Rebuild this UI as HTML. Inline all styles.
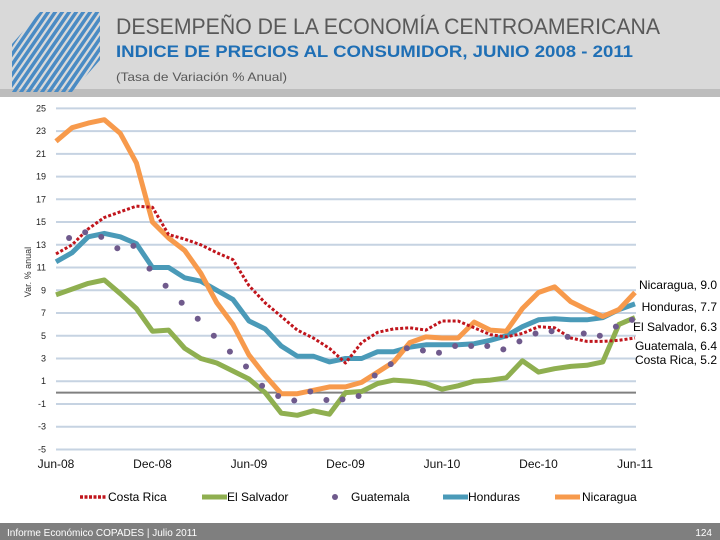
<!DOCTYPE html>
<html><head><meta charset="utf-8"><style>
html,body{margin:0;padding:0;background:#fff;}
svg{display:block;font-family:"Liberation Sans",Arial,sans-serif;}
</style></head><body>
<svg id="c" width="720" height="540" viewBox="0 0 720 540">
<rect x="0" y="0" width="720" height="89" fill="#d9d9d9"/>
<rect x="0" y="89" width="720" height="8" fill="#bdbdbd"/>
<g id="logo"></g>
<text x="116" y="34" font-size="22" fill="#595959" textLength="544" lengthAdjust="spacingAndGlyphs">DESEMPEÑO DE LA ECONOMÍA CENTROAMERICANA</text>
<text x="116" y="57" font-size="17" font-weight="bold" fill="#1f6fb5" textLength="517" lengthAdjust="spacingAndGlyphs">INDICE DE PRECIOS AL CONSUMIDOR, JUNIO 2008 - 2011</text>
<text x="116" y="81" font-size="12" fill="#595959" textLength="171" lengthAdjust="spacingAndGlyphs">(Tasa de Variación % Anual)</text>
<g id="grid"></g>
<g id="yt"></g>
<g id="xt"></g>
<text transform="translate(31,272) rotate(-90)" font-size="9" fill="#333" text-anchor="middle">Var. % anual</text>
<g id="series"></g>
<g id="labels"></g>
<g id="legend"></g>
<rect x="0" y="523" width="720" height="17" fill="#7f7f7f"/>
<text x="7" y="536" font-size="10" fill="#fff">Informe Económico COPADES  |  Julio 2011</text>
<text x="712" y="536" font-size="10" fill="#fff" text-anchor="end">124</text>
</svg>
<script>
const xLabels=["Jun-08","Dec-08","Jun-09","Dec-09","Jun-10","Dec-10","Jun-11"];
const yTicks=[25,23,21,19,17,15,13,11,9,7,5,3,1,-1,-3,-5];
const costaRica=[12.2,13.0,14.4,15.4,15.9,16.4,16.3,13.9,13.5,13.0,12.3,11.7,9.4,7.9,6.7,5.5,4.8,3.9,2.6,4.4,5.3,5.6,5.7,5.5,6.3,6.3,5.7,5.1,4.9,5.2,5.8,5.7,4.8,4.5,4.5,4.6,4.8];
const elSalvador=[8.6,9.1,9.6,9.9,8.7,7.4,5.4,5.5,3.9,3.0,2.6,1.9,1.2,0.0,-1.8,-2.0,-1.6,-1.9,0.0,0.1,0.8,1.1,1.0,0.8,0.3,0.6,1.0,1.1,1.3,2.8,1.8,2.1,2.3,2.4,2.7,6.0,6.6];
const guatemala=[null,13.6,14.1,13.7,12.7,12.9,10.9,9.4,7.9,6.5,5.0,3.6,2.3,0.6,-0.3,-0.7,0.1,-0.65,-0.6,-0.3,1.5,2.5,3.9,3.7,3.5,4.1,4.1,4.1,3.8,4.5,5.2,5.4,4.9,5.2,5.0,5.8,6.4];
const honduras=[11.5,12.3,13.7,14.0,13.7,13.1,11.0,11.0,10.1,9.8,9.0,8.2,6.3,5.6,4.1,3.2,3.2,2.7,3.0,3.0,3.6,3.6,4.0,4.2,4.2,4.2,4.3,4.6,5.0,5.8,6.4,6.5,6.4,6.4,6.6,7.3,7.8];
const nicaragua=[22.1,23.3,23.7,24.0,22.8,20.2,15.0,13.6,12.5,10.5,7.9,6.0,3.3,1.5,-0.1,-0.1,0.2,0.5,0.5,0.9,1.8,2.7,4.4,4.9,4.8,4.8,6.2,5.5,5.4,7.4,8.8,9.3,8.0,7.3,6.7,7.3,8.8];
const endLabels=["Nicaragua, 9.0","Honduras, 7.7","El Salvador, 6.3","Guatemala, 6.4","Costa Rica, 5.2"];
const legendNames=["Costa Rica","El Salvador","Guatemala","Honduras","Nicaragua"];

const NS="http://www.w3.org/2000/svg";
const X0=56,X1=635,Y0=392.6,PX=11.37;
function xs(i){return X0+(X1-X0)*i/36;}
function ys(v){return Y0-v*PX;}
function mk(t,a,p){const e=document.createElementNS(NS,t);for(const k in a)e.setAttribute(k,a[k]);p.appendChild(e);return e;}

const logo=document.getElementById('logo');
const clip=mk('clipPath',{id:'lc'},logo);
mk('polygon',{points:'40,12 100,12 100,60 72,92 12,92 12,44'},clip);
const lg=mk('g',{'clip-path':'url(#lc)'},logo);
for(let k=-100;k<120;k+=7){mk('line',{x1:k,y1:95,x2:k+60,y2:8,stroke:'#4a8bc4','stroke-width':3.5},lg);}

const grid=document.getElementById('grid');
const yt=document.getElementById('yt');
yTicks.forEach(v=>{
  const l=mk('line',{x1:X0,x2:636,y1:ys(v),y2:ys(v),stroke:'#c6d3e2','stroke-width':2},grid);
  
  
  const t=mk('text',{x:46,y:ys(v)+3,'font-size':9,'text-anchor':'end',fill:'#222'},yt);
  t.textContent=v;
  
  
});
const zl=mk('line',{x1:X0,x2:636,y1:ys(0),y2:ys(0),stroke:'#808080','stroke-width':2},grid);



const xt=document.getElementById('xt');
xLabels.forEach((s,i)=>{
  const t=mk('text',{x:xs(i*6),y:468,'font-size':12,'text-anchor':'middle',fill:'#111'},xt);
  t.textContent=s;
  
  
});

const ser=document.getElementById('series');
function line(d,col,w,dash,name){
  const pts=d.map((v,i)=>v==null?null:xs(i).toFixed(1)+','+ys(v).toFixed(1)).filter(p=>p);
  const a={points:pts.join(' '),fill:'none',stroke:col,'stroke-width':w,'stroke-linejoin':'round'};
  if(dash)a['stroke-dasharray']=dash;
  const p=mk('polyline',a,ser);
  
  
}
line(elSalvador,'#8faf50',5,null,'line-el-salvador');
line(honduras,'#4a9ab8',5,null,'line-honduras');
line(nicaragua,'#f79a4c',5,null,'line-nicaragua');
line(costaRica,'#c0151c',3,'3,2','line-costa-rica');
guatemala.forEach((v,i)=>{
  if(v==null)return;
  const c=mk('circle',{cx:xs(i)-3,cy:ys(v),r:3,fill:'#6f5a8c'},ser);
  
  
});

const lab=document.getElementById('labels');
const labY=[289,311,331,350,364];
endLabels.forEach((s,i)=>{
  const t=mk('text',{x:717,y:labY[i],'font-size':12,'text-anchor':'end',fill:'#000'},lab);
  t.textContent=s;
  
  
});

const leg=document.getElementById('legend');
const legX=[80,202,335,443,555];
const legTX=[108,227,351,468,582];
legendNames.forEach((s,i)=>{
  const x=legX[i];
  let m;
  if(i==0)m=mk('line',{x1:x,x2:x+27,y1:497,y2:497,stroke:'#c0151c','stroke-width':3.5,'stroke-dasharray':'3,1.5'},leg);
  else if(i==2)m=mk('circle',{cx:x,cy:497,r:3,fill:'#6f5a8c'},leg);
  else m=mk('line',{x1:x,x2:x+25,y1:497,y2:497,stroke:['','#8faf50','','#4a9ab8','#f79a4c'][i],'stroke-width':5},leg);
  
  
  const t=mk('text',{x:legTX[i],y:501,'font-size':12,fill:'#000'},leg);
  t.textContent=s;
  
  
});
</script>
</body></html>
